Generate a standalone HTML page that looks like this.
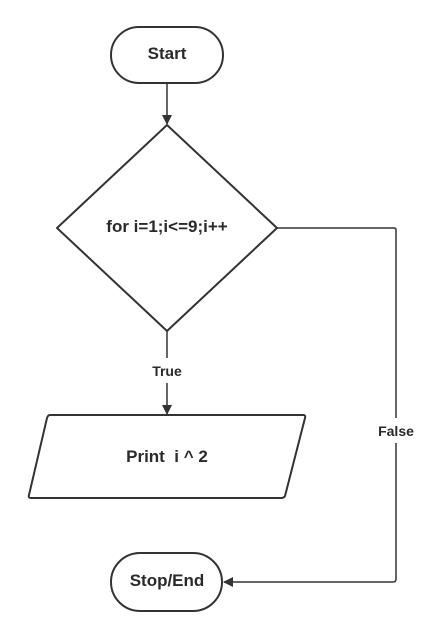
<!DOCTYPE html>
<html><head><style>body{margin:0;background:#fff}svg{display:block}</style></head><body>
<svg width="446" height="638" viewBox="0 0 446 638" xmlns="http://www.w3.org/2000/svg">
<defs><marker id="a" markerWidth="10" markerHeight="10" refX="9" refY="5" orient="auto" markerUnits="userSpaceOnUse"><path d="M0,0 L10,5 L0,10 Z" fill="#333"/></marker></defs>
<g stroke="#333" stroke-width="2" fill="#fff">
<rect x="111" y="27" width="112" height="56" rx="28"/>
<path d="M167,125 L277,228 L167,331 L57,228 Z" stroke-linejoin="round"/>
<path d="M50,415 L303,415 Q306,415 305,418 L285,496 Q284,498 281,498 L31,498 Q28,498 29,495 L47,418 Q48,415 50,415 Z"/>
<rect x="111" y="553" width="111" height="58" rx="29"/>
</g>
<g stroke="#333" stroke-width="1.5" fill="none">
<line x1="167" y1="83" x2="167" y2="124" marker-end="url(#a)"/>
<line x1="167" y1="331" x2="167" y2="358"/>
<line x1="167" y1="383" x2="167" y2="414" marker-end="url(#a)"/>
<path d="M277,228 L394,228 Q396,228 396,230 L396,418"/>
<path d="M396,443 L396,579 Q396,582 393,582 L224,582" marker-end="url(#a)"/>
</g>
<g font-family="Liberation Sans, sans-serif" font-weight="bold" fill="#2a2a2a" text-anchor="middle">
<text x="167" y="59" font-size="17">Start</text>
<text x="167" y="232" font-size="17">for i=1;i&lt;=9;i++</text>
<text x="167" y="376" font-size="14">True</text>
<text x="167" y="462" font-size="17">Print&#160; i ^ 2</text>
<text x="396" y="436" font-size="14">False</text>
<text x="167" y="586" font-size="17">Stop/End</text>
</g>
</svg>
</body></html>
